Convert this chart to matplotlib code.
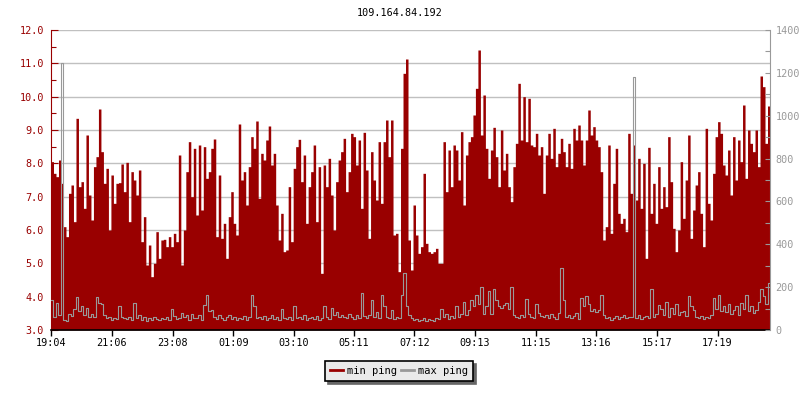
import numpy as np
import matplotlib.pyplot as plt
from matplotlib.lines import Line2D
from matplotlib.ticker import MultipleLocator, FormatStrFormatter

plt.rcParams['font.family'] = ['DejaVu Sans Mono', 'DejaVu Sans']

title = "109.164.84.192"
start_label = "19:04"
step_minutes = 5
time_labels = ["19:04", "21:06", "23:08", "01:09", "03:10", "05:11",
               "07:12", "09:13", "11:15", "13:16", "15:17", "17:19"]

# min ping (ms), one value per 5 minutes
min_ping = [
    8.05, 7.7, 7.6, 8.1, 7.4, 6.1, 5.8, 7.1, 7.35, 6.25,
    9.35, 7.3, 7.45, 6.65, 8.85, 7.05, 6.3, 7.9, 8.2, 9.63,
    8.35, 7.4, 7.85, 6.0, 7.65, 6.8, 7.4, 7.42, 7.98, 7.15,
    8.03, 6.25, 7.75, 7.5, 7.05, 7.8, 5.65, 6.4, 4.95, 5.55,
    4.6, 5.0, 5.95, 5.15, 5.7, 5.72, 5.5, 5.8, 5.5, 5.9,
    5.65, 8.25, 4.95, 6.0, 7.75, 8.65, 7.0, 8.45,
    6.45, 8.55, 6.6, 8.5, 7.55, 7.75, 8.45, 8.73, 5.8, 7.65,
    5.75, 6.2, 5.15, 6.4, 7.15, 6.2, 5.85, 9.18, 7.5, 7.75,
    6.75, 7.9, 8.8, 8.45, 9.27, 6.95, 8.3, 8.1, 8.7, 9.12,
    7.95, 8.3, 6.75, 5.7, 6.5, 5.35, 5.4, 7.3, 5.65, 7.85,
    8.5, 8.72, 7.45, 8.25, 6.2, 7.3, 7.75, 8.55, 6.25, 7.9,
    4.7, 7.95, 7.3, 8.15, 7.05, 6.0, 7.45, 8.1,
    8.35, 8.75, 7.15, 7.75, 8.9, 8.8, 7.95, 8.7, 6.65, 8.93,
    7.8, 5.75, 8.35, 7.5, 6.9, 8.65, 6.8, 8.65, 9.3, 8.2,
    9.3, 5.85, 5.9, 4.75, 8.45, 10.7, 11.13, 5.7, 4.8, 6.75,
    5.85, 5.3, 5.5, 7.7, 5.6, 5.35, 5.3, 5.35, 5.45, 5.0,
    5.0, 8.65, 7.15, 8.4, 7.3, 8.55, 8.4, 7.5, 8.95, 6.75,
    8.25, 8.65, 8.8, 9.45, 10.25, 11.4, 8.85, 10.05,
    8.45, 7.55, 8.4, 9.08, 8.2, 7.3, 9.0, 7.8, 8.3, 7.3,
    6.85, 7.9, 8.6, 10.4, 8.7, 10.0, 8.65, 9.95, 8.55, 8.5,
    8.9, 8.25, 8.5, 7.1, 8.25, 8.9, 8.15, 9.05, 7.9, 8.3,
    8.75, 8.35, 7.9, 8.6, 7.85, 9.05, 8.7, 9.15, 8.7, 7.95,
    8.7, 9.6, 8.85, 9.1, 8.7, 8.5, 7.75, 5.7, 6.1, 8.55,
    5.9, 7.4, 8.45, 6.5, 6.2, 6.35, 5.95, 8.9,
    7.1, 8.55, 6.9, 8.15, 6.65, 8.0, 5.15, 8.48, 6.5, 7.4,
    6.2, 7.9, 6.65, 7.3, 6.7, 8.8, 7.45, 6.05, 5.35, 6.0,
    8.05, 6.35, 7.5, 8.85, 5.75, 6.6, 7.35, 7.75, 6.5, 5.5,
    9.05, 6.8, 6.3, 7.7, 8.8, 9.25, 8.9, 7.95, 7.65, 8.4,
    7.05, 8.8, 7.5, 8.7, 8.05, 9.75, 7.55, 9.0, 8.6, 8.35,
    9.0, 7.9, 10.62, 10.3, 8.6, 9.72,
]

# max ping (ms), same timestamps
max_ping = [
    140, 60, 125, 70, 1244, 45, 40, 75, 65, 100,
    155, 90, 110, 70, 105, 60, 75, 60, 155, 125,
    120, 70, 55, 60, 45, 55, 50, 110, 60, 55,
    50, 60, 45, 125, 55, 70, 45, 60, 40, 55,
    45, 60, 50, 45, 55, 50, 60, 45, 100, 65,
    50, 55, 80, 60, 70, 45, 75, 55,
    55, 70, 45, 115, 165, 90, 95, 60, 50, 70,
    55, 45, 60, 70, 50, 60, 45, 55, 50, 65,
    45, 60, 165, 110, 55, 60, 50, 65, 45, 55,
    70, 50, 60, 45, 100, 55, 50, 60, 45, 110,
    55, 60, 50, 70, 45, 55, 60, 50, 65, 45,
    55, 110, 60, 50, 105, 70, 85, 60,
    70, 60, 55, 75, 60, 50, 70, 55, 175, 65,
    55, 70, 140, 60, 85, 55, 165, 110, 60, 55,
    95, 50, 60, 55, 165, 266, 110, 70, 55, 45,
    50, 40, 45, 55, 40, 50, 45, 40, 55, 50,
    100, 60, 75, 50, 65, 55, 110, 60, 75, 130,
    70, 95, 140, 110, 165, 120, 200, 75,
    110, 180, 75, 190, 140, 110, 105, 115, 125, 100,
    200, 70, 60, 55, 70, 60, 145, 75, 60, 55,
    120, 80, 65, 60, 70, 55, 75, 60, 50, 80,
    290, 140, 60, 70, 55, 65, 80, 50, 150, 110,
    160, 120, 90, 100, 85, 95, 165, 70, 55, 60,
    45, 55, 65, 50, 60, 70, 55, 60,
    60, 1182, 55, 70, 50, 60, 65, 55, 190, 60,
    75, 115, 100, 70, 130, 60, 105, 75, 120, 70,
    85, 90, 65, 160, 110, 95, 60, 55, 65, 50,
    60, 55, 70, 150, 100, 165, 90, 110, 85, 120,
    75, 95, 110, 70, 125, 100, 165, 90, 110, 80,
    95, 130, 190, 160, 120, 220,
]

RED = "#990000"
GREY = "#999999"


def minutes_after_start(label):
    h, m = map(int, label.split(":"))
    h0, m0 = map(int, start_label.split(":"))
    return (h * 60 + m - (h0 * 60 + m0)) % 1440


n = len(min_ping)
t = np.arange(n + 1) * step_minutes
lo = np.append(min_ping, min_ping[-1])
hi = np.append(max_ping, max_ping[-1])

fig = plt.figure(figsize=(8, 4), dpi=100)
ax = fig.add_axes([51 / 800, 70 / 400, 719 / 800, 300 / 400])

ax.fill_between(t, lo, 3.0, step="post", color=RED, lw=0)
ax.set_xlim(0, n * step_minutes)
ax.set_ylim(3, 12)
ax.set_axisbelow(True)
ax.yaxis.grid(True, color="#c0c0c0", lw=1)

ax.yaxis.set_major_locator(MultipleLocator(1))
ax.yaxis.set_minor_locator(MultipleLocator(0.5))
ax.yaxis.set_major_formatter(FormatStrFormatter("%.1f"))
ax.tick_params(axis="y", which="major", direction="in", length=5, width=0.8,
               color=RED, labelcolor=RED, labelsize=7.3, pad=5)
ax.tick_params(axis="y", which="minor", direction="in", length=3.5, width=0.8, color=RED)
ax.set_xticks([minutes_after_start(s) for s in time_labels])
ax.set_xticklabels(time_labels)
ax.tick_params(axis="x", direction="out", length=4, width=1, color="black",
               labelsize=7.3, pad=2)

ax.spines["top"].set_visible(False)
ax.spines["right"].set_visible(False)
ax.spines["left"].set_color(RED)
ax.spines["left"].set_linewidth(0.8)
ax.spines["bottom"].set_color("black")
ax.spines["bottom"].set_linewidth(1.2)

ax2 = ax.twinx()
ax2.plot(t, hi, drawstyle="steps-post", color=GREY, lw=0.8)
ax2.set_ylim(0, 1400)
ax2.yaxis.set_major_locator(MultipleLocator(200))
ax2.yaxis.set_minor_locator(MultipleLocator(100))
ax2.tick_params(axis="y", which="major", direction="in", length=3.5, width=0.8,
                color=GREY, labelcolor=GREY, labelsize=7.3, pad=4)
ax2.tick_params(axis="y", which="minor", direction="in", length=3.5, width=0.8, color=GREY)
for side in ["top", "left", "bottom"]:
    ax2.spines[side].set_visible(False)
ax2.spines["right"].set_color(GREY)
ax2.spines["right"].set_linewidth(0.8)

fig.text(0.5, 1 - 13 / 400, title, ha="center", va="center", fontsize=7.3)

handles = [Line2D([], [], color=RED, lw=2), Line2D([], [], color=GREY, lw=2)]
leg = fig.legend(handles, ["min ping", "max ping"], ncol=2, loc="center",
                 bbox_to_anchor=(399 / 800, 1 - 371 / 400), fontsize=7.5,
                 frameon=True, fancybox=False, shadow={"color": "#666666", "alpha": 1},
                 edgecolor="black", facecolor="#eaeaea", framealpha=1,
                 handlelength=1.2, handletextpad=0.4, columnspacing=0.4,
                 borderpad=0.5, borderaxespad=0)
leg.get_frame().set_linewidth(1.2)

fig.savefig("out.png", dpi=100)
